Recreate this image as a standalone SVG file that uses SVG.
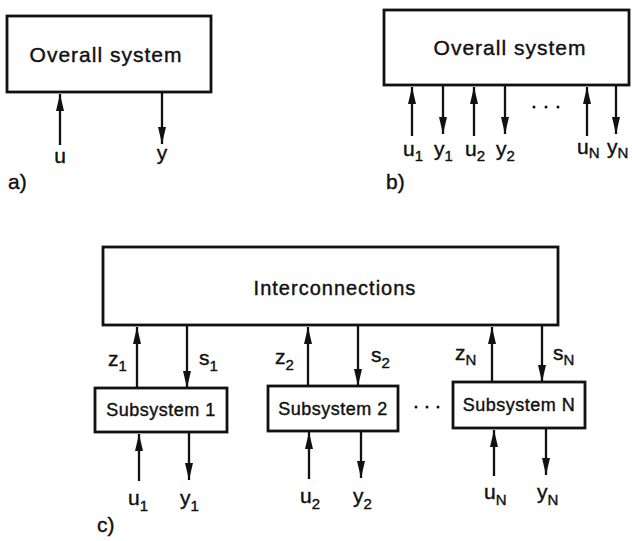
<svg xmlns="http://www.w3.org/2000/svg" width="632" height="541" viewBox="0 0 632 541">
<style>
.box{fill:#fff;stroke:#111;stroke-width:2.8}
.ln{stroke:#111;stroke-width:2.3;fill:none}
.up{marker-end:url(#ah)}
.t{font-family:"Liberation Sans",Arial,sans-serif;fill:#111;stroke:#111;stroke-width:0.4}
.big{font-size:21px;letter-spacing:1px}
.mid{font-size:20px;letter-spacing:1px}
.sub{font-size:18px;letter-spacing:0.5px}
.lbl{font-size:21px}
.s{font-size:15px}
.dot{fill:#111}
</style>
<defs>
<marker id="ah" markerUnits="userSpaceOnUse" markerWidth="18" markerHeight="9" refX="17" refY="4.5" orient="auto">
<path d="M0,0.5 L17,4.5 L0,8.5 z" fill="#111"/>
</marker>
</defs>
<rect width="632" height="541" fill="#fff"/>

<g id="overall-a">
<rect class="box" x="7" y="16" width="204" height="76"/>
<text class="t big" x="106" y="62" text-anchor="middle">Overall system</text>
</g>
<g id="overall-b">
<rect class="box" x="384" y="10" width="245" height="75"/>
<text class="t big" x="510" y="55" text-anchor="middle">Overall system</text>
</g>
<g id="interconnections">
<rect class="box" x="103" y="247" width="455" height="78"/>
<text class="t mid" x="335" y="295" text-anchor="middle">Interconnections</text>
</g>
<g id="subsystem-1">
<rect class="box" x="95" y="388" width="132" height="44"/>
<text class="t sub" x="161" y="416" text-anchor="middle">Subsystem 1</text>
</g>
<g id="subsystem-2">
<rect class="box" x="268" y="386" width="130" height="45"/>
<text class="t sub" x="333" y="415" text-anchor="middle">Subsystem 2</text>
</g>
<g id="subsystem-n">
<rect class="box" x="453" y="382" width="132" height="46"/>
<text class="t sub" x="519" y="411" text-anchor="middle">Subsystem N</text>
</g>

<g id="connectors">
<line class="ln up" x1="60" y1="145" x2="60" y2="94"/>
<line class="ln up" x1="162" y1="93" x2="162" y2="144"/>
<line class="ln up" x1="412" y1="136" x2="412" y2="87"/>
<line class="ln up" x1="443" y1="86" x2="443" y2="134"/>
<line class="ln up" x1="474" y1="136" x2="474" y2="87"/>
<line class="ln up" x1="505" y1="86" x2="505" y2="134"/>
<line class="ln up" x1="587" y1="136" x2="587" y2="87"/>
<line class="ln up" x1="616" y1="86" x2="616" y2="134"/>
<line class="ln up" x1="137" y1="388" x2="137" y2="327"/>
<line class="ln up" x1="187" y1="326" x2="187" y2="388"/>
<line class="ln up" x1="308" y1="386" x2="308" y2="327"/>
<line class="ln up" x1="358" y1="326" x2="358" y2="386"/>
<line class="ln up" x1="492" y1="382" x2="492" y2="327"/>
<line class="ln up" x1="542" y1="326" x2="542" y2="382"/>
<line class="ln up" x1="139" y1="481" x2="139" y2="434"/>
<line class="ln up" x1="189" y1="433" x2="189" y2="480"/>
<line class="ln up" x1="309" y1="479" x2="309" y2="432"/>
<line class="ln up" x1="361" y1="431" x2="361" y2="478"/>
<line class="ln up" x1="494" y1="476" x2="494" y2="430"/>
<line class="ln up" x1="546" y1="429" x2="546" y2="475"/>
</g>

<g id="dots">
<circle class="dot" cx="534" cy="107" r="1.5"/><circle class="dot" cx="546" cy="107" r="1.5"/><circle class="dot" cx="558" cy="107" r="1.5"/>
<circle class="dot" cx="416" cy="407" r="1.5"/><circle class="dot" cx="427" cy="407" r="1.5"/><circle class="dot" cx="438" cy="407" r="1.5"/>
</g>

<g id="labels">
<text class="t lbl" x="60" y="163" text-anchor="middle">u</text>
<text class="t lbl" x="162" y="160" text-anchor="middle">y</text>
<text class="t lbl" x="8" y="189">a)</text>

<text class="t lbl" x="403" y="156">u<tspan class="s" dy="5">1</tspan></text>
<text class="t lbl" x="434" y="156">y<tspan class="s" dy="5">1</tspan></text>
<text class="t lbl" x="465" y="156">u<tspan class="s" dy="5">2</tspan></text>
<text class="t lbl" x="496" y="156">y<tspan class="s" dy="5">2</tspan></text>
<text class="t lbl" x="577" y="154">u<tspan class="s" dy="4">N</tspan></text>
<text class="t lbl" x="607" y="154">y<tspan class="s" dy="4">N</tspan></text>
<text class="t lbl" x="386" y="189">b)</text>

<text class="t lbl" x="108" y="366">z<tspan class="s" dy="5">1</tspan></text>
<text class="t lbl" x="199" y="365">s<tspan class="s" dy="6">1</tspan></text>
<text class="t lbl" x="275" y="364">z<tspan class="s" dy="6">2</tspan></text>
<text class="t lbl" x="371" y="362">s<tspan class="s" dy="6">2</tspan></text>
<text class="t lbl" x="455" y="360">z<tspan class="s" dy="5">N</tspan></text>
<text class="t lbl" x="553" y="360">s<tspan class="s" dy="5">N</tspan></text>

<text class="t lbl" x="128" y="505">u<tspan class="s" dy="6">1</tspan></text>
<text class="t lbl" x="180" y="505">y<tspan class="s" dy="6">1</tspan></text>
<text class="t lbl" x="300" y="503">u<tspan class="s" dy="6">2</tspan></text>
<text class="t lbl" x="353" y="503">y<tspan class="s" dy="6">2</tspan></text>
<text class="t lbl" x="484" y="499">u<tspan class="s" dy="6">N</tspan></text>
<text class="t lbl" x="537" y="499">y<tspan class="s" dy="6">N</tspan></text>
<text class="t lbl" x="97" y="532">c)</text>
</g>
</svg>
